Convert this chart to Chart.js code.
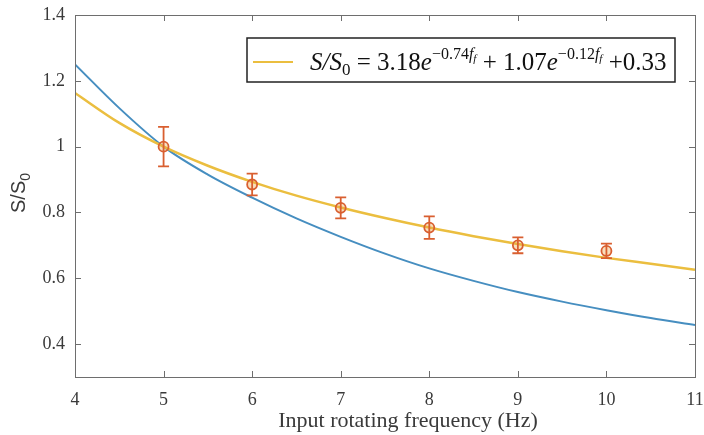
<!DOCTYPE html>
<html>
<head>
<meta charset="utf-8">
<script src="https://cdn.jsdelivr.net/npm/chart.js@4"></script>
<style>
  html, body { margin: 0; padding: 0; background: #fff; }
  canvas { display: block; }
</style>
</head>
<body>
<canvas id="chart" width="704" height="435"></canvas>
<script>
// Frequency grid for the two model curves (Hz)
const freqGrid = [4, 4.5, 5, 5.5, 6, 6.5, 7, 7.5, 8, 8.5, 9, 9.5, 10, 10.5, 11];
// Double-exponential fit (yellow)
const fitCurve = [1.163, 1.072, 1.0, 0.942, 0.893, 0.851, 0.815, 0.783, 0.754, 0.728, 0.704, 0.682, 0.662, 0.644, 0.626];
// Single-exponential model (blue)
const expCurve = [1.25, 1.117, 1.0, 0.915, 0.845, 0.782, 0.726, 0.675, 0.630, 0.592, 0.558, 0.529, 0.503, 0.479, 0.458];

// Measurements with error bars
const measFreq = [5, 6, 7, 8, 9, 10];
const measMean = [1.0, 0.885, 0.814, 0.754, 0.70, 0.683];
const measErr = [0.06, 0.033, 0.032, 0.034, 0.024, 0.022];

// Axis ticks
const xTicks = [4, 5, 6, 7, 8, 9, 10, 11];
const yTicks = [0.4, 0.6, 0.8, 1, 1.2, 1.4];

const blue = "#468ec0";
const yellow = "#ebbe3f";
const orange = "#d95f30";
const frameGray = "#6e6e6e";
const textGray = "#3a3a3a";

// Box around the plot area with inward ticks on all four sides
const framePlugin = {
  id: "frame",
  afterDraw(chart) {
    const { ctx, chartArea: a, scales } = chart;
    ctx.save();
    ctx.strokeStyle = frameGray;
    ctx.lineWidth = 1;
    ctx.strokeRect(a.left + 0.5, a.top + 0.5, a.right - a.left, a.bottom - a.top);
    const len = 6;
    ctx.beginPath();
    scales.x.ticks.forEach(t => {
      const px = Math.round(scales.x.getPixelForValue(t.value)) + 0.5;
      ctx.moveTo(px, a.bottom); ctx.lineTo(px, a.bottom - len);
      ctx.moveTo(px, a.top); ctx.lineTo(px, a.top + len);
    });
    scales.y.ticks.forEach(t => {
      const py = Math.round(scales.y.getPixelForValue(t.value)) + 0.5;
      ctx.moveTo(a.left, py); ctx.lineTo(a.left + len, py);
      ctx.moveTo(a.right, py); ctx.lineTo(a.right - len, py);
    });
    ctx.stroke();
    ctx.restore();
  }
};

// Vertical error bars with caps
const errorBarPlugin = {
  id: "errorBars",
  afterDatasetsDraw(chart) {
    const { ctx, scales } = chart;
    ctx.save();
    ctx.strokeStyle = orange;
    ctx.lineWidth = 1.8;
    const cap = 5.5;
    measFreq.forEach((f, i) => {
      const px = scales.x.getPixelForValue(f);
      const top = scales.y.getPixelForValue(measMean[i] + measErr[i]);
      const bot = scales.y.getPixelForValue(measMean[i] - measErr[i]);
      ctx.beginPath();
      ctx.moveTo(px, top); ctx.lineTo(px, bot);
      ctx.moveTo(px - cap, top); ctx.lineTo(px + cap, top);
      ctx.moveTo(px - cap, bot); ctx.lineTo(px + cap, bot);
      ctx.stroke();
    });
    ctx.restore();
  }
};

// Text pieces: [text, size, italic, baseline shift]
function drawPieces(ctx, x, y, pieces) {
  pieces.forEach(([txt, size, italic, dy]) => {
    ctx.font = (italic ? "italic " : "") + size + "px 'Liberation Serif'";
    ctx.fillText(txt, x, y + dy);
    x += ctx.measureText(txt).width;
  });
  return x;
}

// Legend with the fitted formula, and the two axis titles
const annotationPlugin = {
  id: "annotations",
  afterDraw(chart) {
    const { ctx } = chart;
    ctx.save();

    // legend box
    ctx.fillStyle = "#fff";
    ctx.fillRect(247, 38, 428, 44);
    ctx.strokeStyle = "#222";
    ctx.lineWidth = 1.5;
    ctx.strokeRect(247, 38, 428, 44);
    ctx.strokeStyle = yellow;
    ctx.lineWidth = 2;
    ctx.beginPath();
    ctx.moveTo(253, 62); ctx.lineTo(293, 62);
    ctx.stroke();

    ctx.fillStyle = "#111";
    ctx.textBaseline = "alphabetic";
    ctx.textAlign = "left";
    drawPieces(ctx, 310, 70, [
      ["S/S", 25, true, 0], ["0", 17, false, 5], [" = ", 25, false, 0],
      ["3.18", 25, false, 0], ["e", 25, true, 0],
      ["\u22120.74", 16, false, -11], ["f", 16, true, -11], ["f", 11, true, -8],
      [" + ", 25, false, 0],
      ["1.07", 25, false, 0], ["e", 25, true, 0],
      ["\u22120.12", 16, false, -11], ["f", 16, true, -11], ["f", 11, true, -8],
      [" +", 25, false, 0], ["0.33", 25, false, 0]
    ]);

    // x axis title
    ctx.fillStyle = textGray;
    ctx.font = "22px 'Liberation Serif'";
    ctx.textAlign = "center";
    ctx.fillText("Input rotating frequency (Hz)", 408, 427);

    // y axis title, rotated, with subscript 0
    ctx.translate(25, 193);
    ctx.rotate(-Math.PI / 2);
    ctx.textAlign = "left";
    ctx.font = "20px 'Liberation Sans'";
    const main = "S/S";
    const w1 = ctx.measureText(main).width;
    ctx.font = "14px 'Liberation Sans'";
    const w2 = ctx.measureText("0").width;
    const x0 = -(w1 + w2) / 2;
    ctx.font = "20px 'Liberation Sans'";
    ctx.fillText(main, x0, 0);
    ctx.font = "14px 'Liberation Sans'";
    ctx.fillText("0", x0 + w1, 5);
    ctx.restore();
  }
};

new Chart(document.getElementById("chart"), {
  type: "line",
  data: {
    datasets: [
      {
        label: "measured",
        data: measFreq.map((f, i) => ({ x: f, y: measMean[i] })),
        showLine: false,
        pointRadius: 5,
        pointBorderWidth: 1.8,
        pointBorderColor: orange,
        pointBackgroundColor: "rgba(236,160,70,0.35)"
      },
      {
        label: "fit",
        data: freqGrid.map((f, i) => ({ x: f, y: fitCurve[i] })),
        borderColor: yellow,
        borderWidth: 2.5,
        pointRadius: 0,
        cubicInterpolationMode: "monotone"
      },
      {
        label: "model",
        data: freqGrid.map((f, i) => ({ x: f, y: expCurve[i] })),
        borderColor: blue,
        borderWidth: 2,
        pointRadius: 0,
        cubicInterpolationMode: "monotone"
      }
    ]
  },
  options: {
    responsive: false,
    animation: false,
    layout: { padding: { top: 15, right: 9, left: 0, bottom: 0 } },
    plugins: { legend: { display: false }, tooltip: { enabled: false } },
    scales: {
      x: {
        type: "linear",
        min: 4,
        max: 11,
        grid: { display: false, drawTicks: false },
        border: { display: false },
        afterBuildTicks: s => { s.ticks = xTicks.map(v => ({ value: v })); },
        afterFit: s => { s.height = 58; s.paddingLeft = 0; s.paddingRight = 0; },
        ticks: {
          padding: 12,
          color: textGray,
          font: { family: "'Liberation Serif'", size: 18 },
          maxRotation: 0,
          autoSkip: false
        }
      },
      y: {
        min: 0.3,
        max: 1.4,
        grid: { display: false, drawTicks: false },
        border: { display: false },
        afterBuildTicks: s => { s.ticks = yTicks.map(v => ({ value: v })); },
        afterFit: s => { s.width = 75; s.paddingTop = 0; s.paddingBottom = 0; },
        ticks: {
          padding: 10,
          color: textGray,
          font: { family: "'Liberation Serif'", size: 18 },
          callback: v => String(v)
        }
      }
    }
  },
  plugins: [framePlugin, errorBarPlugin, annotationPlugin]
});
</script>
</body>
</html>
